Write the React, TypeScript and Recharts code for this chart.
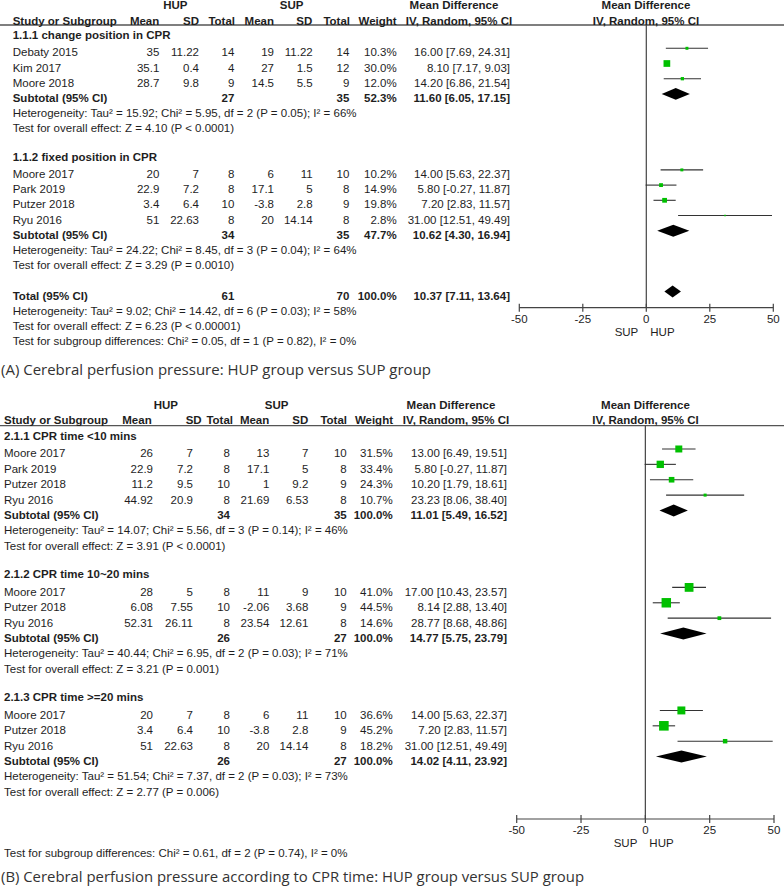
import React from "react"
import { ScatterChart, Scatter, XAxis, YAxis, ErrorBar, ReferenceLine, ReferenceArea } from "recharts"

type Study = {
  study: string
  hupMean: number
  hupSd: number
  hupN: number
  supMean: number
  supSd: number
  supN: number
  weight: number
  md: number
  lo: number
  hi: number
}

type Pooled = { label: string; hupN: number; supN: number; weight: number; md: number; lo: number; hi: number }

// (A) cerebral perfusion pressure by position
const changePosition: Study[] = [
  { study: "Debaty 2015", hupMean: 35, hupSd: 11.22, hupN: 14, supMean: 19, supSd: 11.22, supN: 14, weight: 10.3, md: 16.0, lo: 7.69, hi: 24.31 },
  { study: "Kim 2017", hupMean: 35.1, hupSd: 0.4, hupN: 4, supMean: 27, supSd: 1.5, supN: 12, weight: 30.0, md: 8.1, lo: 7.17, hi: 9.03 },
  { study: "Moore 2018", hupMean: 28.7, hupSd: 9.8, hupN: 9, supMean: 14.5, supSd: 5.5, supN: 9, weight: 12.0, md: 14.2, lo: 6.86, hi: 21.54 },
]
const fixedPosition: Study[] = [
  { study: "Moore 2017", hupMean: 20, hupSd: 7, hupN: 8, supMean: 6, supSd: 11, supN: 10, weight: 10.2, md: 14.0, lo: 5.63, hi: 22.37 },
  { study: "Park 2019", hupMean: 22.9, hupSd: 7.2, hupN: 8, supMean: 17.1, supSd: 5, supN: 8, weight: 14.9, md: 5.8, lo: -0.27, hi: 11.87 },
  { study: "Putzer 2018", hupMean: 3.4, hupSd: 6.4, hupN: 10, supMean: -3.8, supSd: 2.8, supN: 9, weight: 19.8, md: 7.2, lo: 2.83, hi: 11.57 },
  { study: "Ryu 2016", hupMean: 51, hupSd: 22.63, hupN: 8, supMean: 20, supSd: 14.14, supN: 8, weight: 2.8, md: 31.0, lo: 12.51, hi: 49.49 },
]
const changeSubtotal: Pooled = { label: "Subtotal (95% CI)", hupN: 27, supN: 35, weight: 52.3, md: 11.6, lo: 6.05, hi: 17.15 }
const fixedSubtotal: Pooled = { label: "Subtotal (95% CI)", hupN: 34, supN: 35, weight: 47.7, md: 10.62, lo: 4.3, hi: 16.94 }
const totalA: Pooled = { label: "Total (95% CI)", hupN: 61, supN: 70, weight: 100.0, md: 10.37, lo: 7.11, hi: 13.64 }

// (B) cerebral perfusion pressure by CPR time
const timeUnder10: Study[] = [
  { study: "Moore 2017", hupMean: 26, hupSd: 7, hupN: 8, supMean: 13, supSd: 7, supN: 10, weight: 31.5, md: 13.0, lo: 6.49, hi: 19.51 },
  { study: "Park 2019", hupMean: 22.9, hupSd: 7.2, hupN: 8, supMean: 17.1, supSd: 5, supN: 8, weight: 33.4, md: 5.8, lo: -0.27, hi: 11.87 },
  { study: "Putzer 2018", hupMean: 11.2, hupSd: 9.5, hupN: 10, supMean: 1, supSd: 9.2, supN: 9, weight: 24.3, md: 10.2, lo: 1.79, hi: 18.61 },
  { study: "Ryu 2016", hupMean: 44.92, hupSd: 20.9, hupN: 8, supMean: 21.69, supSd: 6.53, supN: 8, weight: 10.7, md: 23.23, lo: 8.06, hi: 38.4 },
]
const time10to20: Study[] = [
  { study: "Moore 2017", hupMean: 28, hupSd: 5, hupN: 8, supMean: 11, supSd: 9, supN: 10, weight: 41.0, md: 17.0, lo: 10.43, hi: 23.57 },
  { study: "Putzer 2018", hupMean: 6.08, hupSd: 7.55, hupN: 10, supMean: -2.06, supSd: 3.68, supN: 9, weight: 44.5, md: 8.14, lo: 2.88, hi: 13.4 },
  { study: "Ryu 2016", hupMean: 52.31, hupSd: 26.11, hupN: 8, supMean: 23.54, supSd: 12.61, supN: 8, weight: 14.6, md: 28.77, lo: 8.68, hi: 48.86 },
]
const timeOver20: Study[] = [
  { study: "Moore 2017", hupMean: 20, hupSd: 7, hupN: 8, supMean: 6, supSd: 11, supN: 10, weight: 36.6, md: 14.0, lo: 5.63, hi: 22.37 },
  { study: "Putzer 2018", hupMean: 3.4, hupSd: 6.4, hupN: 10, supMean: -3.8, supSd: 2.8, supN: 9, weight: 45.2, md: 7.2, lo: 2.83, hi: 11.57 },
  { study: "Ryu 2016", hupMean: 51, hupSd: 22.63, hupN: 8, supMean: 20, supSd: 14.14, supN: 8, weight: 18.2, md: 31.0, lo: 12.51, hi: 49.49 },
]
const under10Subtotal: Pooled = { label: "Subtotal (95% CI)", hupN: 34, supN: 35, weight: 100.0, md: 11.01, lo: 5.49, hi: 16.52 }
const mid10to20Subtotal: Pooled = { label: "Subtotal (95% CI)", hupN: 26, supN: 27, weight: 100.0, md: 14.77, lo: 5.75, hi: 23.79 }
const over20Subtotal: Pooled = { label: "Subtotal (95% CI)", hupN: 26, supN: 27, weight: 100.0, md: 14.02, lo: 4.11, hi: 23.92 }

const xTicks = [-50, -25, 0, 25, 50]
const headerCols = ["Mean", "SD", "Total", "Mean", "SD", "Total", "Weight"]

type Line =
  | { kind: "group"; text: string }
  | { kind: "study"; s: Study }
  | { kind: "pooled"; p: Pooled }
  | { kind: "note"; text: string }
  | { kind: "blank" }

const g = (text: string): Line => ({ kind: "group", text })
const n = (text: string): Line => ({ kind: "note", text })
const blank: Line = { kind: "blank" }
const studies = (arr: Study[]): Line[] => arr.map((s) => ({ kind: "study", s }))
const pooled = (p: Pooled): Line => ({ kind: "pooled", p })

const linesA: Line[] = [
  g("1.1.1 change position in CPR"),
  ...studies(changePosition),
  pooled(changeSubtotal),
  n("Heterogeneity: Tau² = 15.92; Chi² = 5.95, df = 2 (P = 0.05); I² = 66%"),
  n("Test for overall effect: Z = 4.10 (P < 0.0001)"),
  blank,
  g("1.1.2 fixed position in CPR"),
  ...studies(fixedPosition),
  pooled(fixedSubtotal),
  n("Heterogeneity: Tau² = 24.22; Chi² = 8.45, df = 3 (P = 0.04); I² = 64%"),
  n("Test for overall effect: Z = 3.29 (P = 0.0010)"),
  blank,
  pooled(totalA),
  n("Heterogeneity: Tau² = 9.02; Chi² = 14.42, df = 6 (P = 0.03); I² = 58%"),
  n("Test for overall effect: Z = 6.23 (P < 0.00001)"),
  n("Test for subgroup differences: Chi² = 0.05, df = 1 (P = 0.82), I² = 0%"),
]

const linesB: Line[] = [
  g("2.1.1 CPR time <10 mins"),
  ...studies(timeUnder10),
  pooled(under10Subtotal),
  n("Heterogeneity: Tau² = 14.07; Chi² = 5.56, df = 3 (P = 0.14); I² = 46%"),
  n("Test for overall effect: Z = 3.91 (P < 0.0001)"),
  blank,
  g("2.1.2 CPR time 10~20 mins"),
  ...studies(time10to20),
  pooled(mid10to20Subtotal),
  n("Heterogeneity: Tau² = 40.44; Chi² = 6.95, df = 2 (P = 0.03); I² = 71%"),
  n("Test for overall effect: Z = 3.21 (P = 0.001)"),
  blank,
  g("2.1.3 CPR time >=20 mins"),
  ...studies(timeOver20),
  pooled(over20Subtotal),
  n("Heterogeneity: Tau² = 51.54; Chi² = 7.37, df = 2 (P = 0.03); I² = 73%"),
  n("Test for overall effect: Z = 2.77 (P = 0.006)"),
  blank,
  blank,
  blank,
  n("Test for subgroup differences: Chi² = 0.61, df = 2 (P = 0.74), I² = 0%"),
]

const FONT = "'Liberation Sans', Arial, sans-serif"
const FS = 11.5
const INK = "#1e1e1e"
const AXIS = "#444"
const GREEN = "#00c000"
const AXIS_H = 30

type Panel = {
  lines: Line[]
  caption: string
  captionY: number
  captionW: number
  top: number
  height: number
  plotTop: number
  plotBottom: number
  plotLeft: number
  plotRight: number
  rowOrigin: number
  pitch: number
  textDy: number
  nameX: number
  cols: number[]
  headCols: number[]
  ciX: number
  hupX: number
  supX: number
  mdX: number
  ivX: number
  plotHeadX: number
  headY1: number
  headY2: number
}

const panelA: Panel = {
  lines: linesA,
  caption: "(A) Cerebral perfusion pressure: HUP group versus SUP group",
  captionY: 375,
  captionW: 430,
  top: 0,
  height: 345,
  plotTop: 25,
  plotBottom: 307.7,
  plotLeft: 519.3,
  plotRight: 773.3,
  rowOrigin: 33.1,
  pitch: 15.2,
  textDy: 4,
  nameX: 12.7,
  cols: [159.3, 199, 234.3, 274, 312.7, 349.3, 396.7],
  headCols: [159.3, 199, 235, 274, 312.3, 350, 396.7],
  ciX: 510,
  hupX: 175.3,
  supX: 291.7,
  mdX: 454,
  ivX: 459,
  plotHeadX: 646,
  headY1: 5,
  headY2: 20.7,
}

const panelB: Panel = {
  lines: linesB,
  caption: "(B) Cerebral perfusion pressure according to CPR time: HUP group versus SUP group",
  captionY: 882,
  captionW: 583,
  top: 400,
  height: 460,
  plotTop: 425.7,
  plotBottom: 819,
  plotLeft: 516.7,
  plotRight: 774,
  rowOrigin: 433.6,
  pitch: 15.38,
  textDy: 4.3,
  nameX: 4,
  cols: [153, 193, 230, 269.3, 308.3, 346.7, 392.7],
  headCols: [151.7, 201.7, 233, 269.3, 308.3, 347, 393],
  ciX: 507,
  hupX: 165.8,
  supX: 276.7,
  mdX: 451,
  ivX: 456,
  plotHeadX: 645.5,
  headY1: 405,
  headY2: 420,
}

const fmtCi = (p: { md: number; lo: number; hi: number }) =>
  `${p.md.toFixed(2)} [${p.lo.toFixed(2)}, ${p.hi.toFixed(2)}]`

function Square(props: any) {
  const { cx, cy, payload } = props
  if (cx == null || cy == null) return null
  const s = 1 + 0.19 * payload.weight
  return <rect x={cx - s / 2} y={cy - s / 2} width={s} height={s} fill={GREEN} />
}

function Diamond(props: any) {
  const { x, y, width, height, frac } = props
  const mx = x + width * frac
  const my = y + height / 2
  return <polygon points={`${x},${my} ${mx},${y} ${x + width},${my} ${mx},${y + height}`} fill="#000" />
}

function AxisTick(props: any) {
  const { x, y, payload } = props
  return (
    <g>
      <line x1={x} x2={x} y1={y - 4} y2={y + 4} stroke={AXIS} strokeWidth={1.2} />
      <text x={x} y={y + 14.8} textAnchor="middle" fontFamily={FONT} fontSize={FS} fill={INK}>
        {payload.value}
      </text>
    </g>
  )
}

function SideLabels({ viewBox }: any) {
  if (!viewBox) return null
  const cx = viewBox.x + viewBox.width / 2
  const y = viewBox.y + 28
  return (
    <g fontFamily={FONT} fontSize={FS} fill={INK}>
      <text x={cx - 8} y={y} textAnchor="end">SUP</text>
      <text x={cx + 4} y={y}>HUP</text>
    </g>
  )
}

function TableText({ panel }: { panel: Panel }) {
  const base = (k: number) => panel.rowOrigin + panel.pitch * k + panel.textDy + FS * 0.36
  const out: React.ReactNode[] = []
  const t = (key: string, x: number, y: number, s: string | number, anchor = "start", bold = false) =>
    out.push(
      <text key={key} x={x} y={y} textAnchor={anchor as any} fontWeight={bold ? "bold" : "normal"}>
        {s}
      </text>
    )
  const h1 = panel.headY1 + FS * 0.36
  const h2 = panel.headY2 + FS * 0.36
  t("hup", panel.hupX, h1, "HUP", "middle", true)
  t("sup", panel.supX, h1, "SUP", "middle", true)
  t("md1", panel.mdX, h1, "Mean Difference", "middle", true)
  t("md2", panel.plotHeadX, h1, "Mean Difference", "middle", true)
  t("study", panel.nameX, h2, "Study or Subgroup", "start", true)
  headerCols.forEach((c, i) => t(`hc${i}`, panel.headCols[i], h2, c, "end", true))
  t("iv1", panel.ivX, h2, "IV, Random, 95% CI", "middle", true)
  t("iv2", panel.plotHeadX, h2, "IV, Random, 95% CI", "middle", true)

  panel.lines.forEach((line, k) => {
    const y = base(k)
    if (line.kind === "group") t(`g${k}`, panel.nameX, y - 2.2, line.text, "start", true)
    else if (line.kind === "note") t(`n${k}`, panel.nameX, y, line.text)
    else if (line.kind === "study") {
      const s = line.s
      const vals = [s.hupMean, s.hupSd, s.hupN, s.supMean, s.supSd, s.supN, `${s.weight.toFixed(1)}%`]
      t(`s${k}`, panel.nameX, y, s.study)
      vals.forEach((v, i) => t(`s${k}-${i}`, panel.cols[i], y, v, "end"))
      t(`s${k}-ci`, panel.ciX, y, fmtCi(s), "end")
    } else if (line.kind === "pooled") {
      const p = line.p
      t(`p${k}`, panel.nameX, y, p.label, "start", true)
      t(`p${k}-a`, panel.cols[2], y, p.hupN, "end", true)
      t(`p${k}-b`, panel.cols[5], y, p.supN, "end", true)
      t(`p${k}-w`, panel.cols[6], y, `${p.weight.toFixed(1)}%`, "end", true)
      t(`p${k}-ci`, panel.ciX, y, fmtCi(p), "end", true)
    }
  })

  const ruleY = panel.plotTop
  return (
    <g fontFamily={FONT} fontSize={FS} fill={INK}>
      <line x1={0} x2={784} y1={ruleY} y2={ruleY} stroke="#555" strokeWidth={1.3} />
      {out}
      <text
        x={1}
        y={panel.captionY}
        fontFamily="'Open Sans', 'Noto Sans', sans-serif"
        fontSize={15}
        fill="#333"
        textLength={panel.captionW}
        lengthAdjust="spacingAndGlyphs"
      >
        {panel.caption}
      </text>
    </g>
  )
}

function ForestPlot({ panel }: { panel: Panel }) {
  const points = panel.lines.flatMap((line, k) =>
    line.kind === "study"
      ? [{ row: k, md: line.s.md, weight: line.s.weight, err: [line.s.md - line.s.lo, line.s.hi - line.s.md] }]
      : []
  )
  const diamonds = panel.lines.flatMap((line, k) => (line.kind === "pooled" ? [{ row: k, ...line.p }] : []))
  const yDomain = [
    (panel.plotTop - panel.rowOrigin) / panel.pitch,
    (panel.plotBottom - panel.rowOrigin) / panel.pitch,
  ]
  const margin = {
    top: panel.plotTop - panel.top,
    left: panel.plotLeft,
    right: 784 - panel.plotRight,
    bottom: panel.top + panel.height - panel.plotBottom - AXIS_H,
  }
  return (
    <div style={{ position: "absolute", left: 0, top: panel.top }}>
      <ScatterChart width={784} height={panel.height} margin={margin}>
        <XAxis
          type="number"
          dataKey="md"
          domain={[-50, 50]}
          ticks={xTicks}
          allowDataOverflow
          height={AXIS_H}
          tickLine={false}
          tickSize={0}
          tickMargin={0}
          tick={<AxisTick />}
          axisLine={{ stroke: AXIS, strokeWidth: 1.2 }}
          label={<SideLabels />}
        />
        <YAxis type="number" dataKey="row" domain={yDomain} reversed hide allowDataOverflow />
        <ReferenceLine x={0} stroke={AXIS} strokeWidth={1.2} />
        {diamonds.map((d) => (
          <ReferenceArea
            key={`d${d.row}`}
            x1={d.lo}
            x2={d.hi}
            y1={d.row - 0.39}
            y2={d.row + 0.39}
            ifOverflow="visible"
            shape={(p: any) => <Diamond {...p} frac={(d.md - d.lo) / (d.hi - d.lo)} />}
          />
        ))}
        <Scatter data={points} shape={<Square />} isAnimationActive={false}>
          <ErrorBar dataKey="err" direction="x" width={0} stroke="#333" strokeWidth={1.1} isAnimationActive={false} />
        </Scatter>
      </ScatterChart>
    </div>
  )
}

export default function App() {
  return (
    <div style={{ position: "absolute", left: 0, top: 0, width: 784, height: 892, background: "#fff" }}>
      <svg width={784} height={892} style={{ position: "absolute", left: 0, top: 0 }}>
        <TableText panel={panelA} />
        <TableText panel={panelB} />
      </svg>
      <ForestPlot panel={panelA} />
      <ForestPlot panel={panelB} />
    </div>
  )
}
